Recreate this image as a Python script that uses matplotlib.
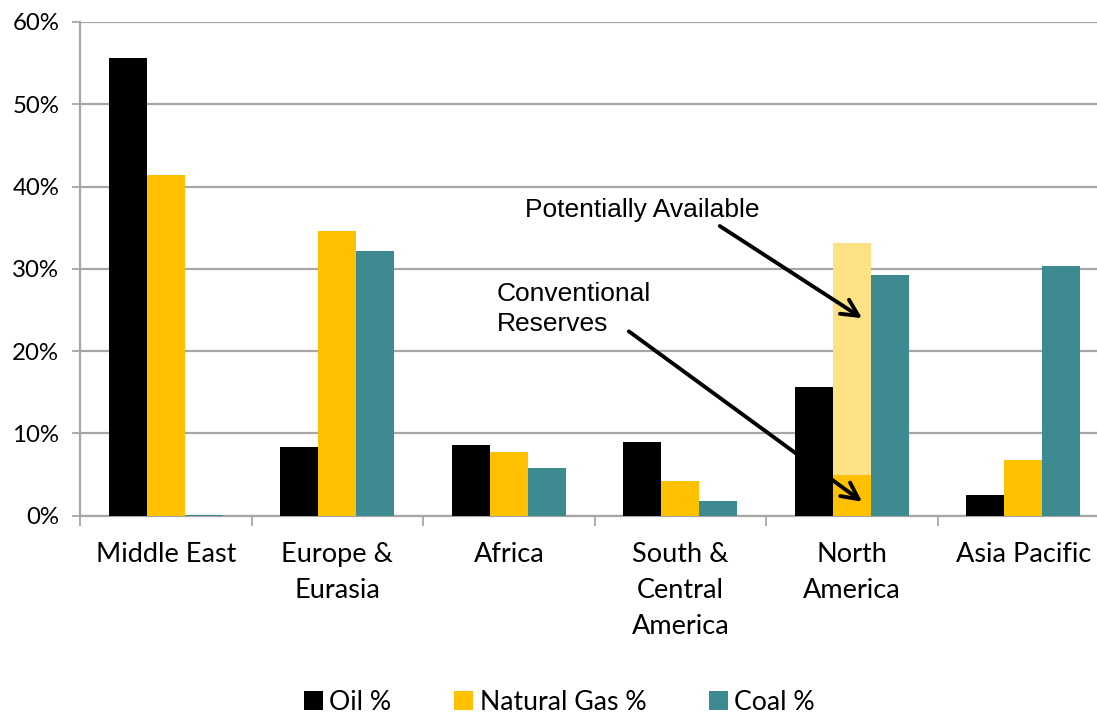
import numpy as np
import matplotlib
matplotlib.use("Agg")
import matplotlib.pyplot as plt
from matplotlib.ticker import PercentFormatter

regions = ["Middle East", "Europe &\nEurasia", "Africa", "South &\nCentral\nAmerica",
           "North\nAmerica", "Asia Pacific"]
oil = [55.6, 8.3, 8.6, 9.0, 15.6, 2.5]
gas = [41.4, 34.6, 7.8, 4.2, 4.9, 6.8]
coal = [0.1, 32.2, 5.8, 1.8, 29.2, 30.4]
gas_potential = [0, 0, 0, 0, 33.1, 0]   # North America unconventional gas

c_oil = "#000000"
c_gas = "#FFC000"
c_gas_light = "#FDE185"
c_coal = "#3E8A91"
grid_c = "#A6A6A6"

plt.rcParams["font.family"] = ["Lato", "DejaVu Sans"]

fig = plt.figure(figsize=(10.97, 7.23), dpi=100)
# axes runs slightly past the right edge of the figure, as in the original
ax = fig.add_axes([0.073, 0.2867, 0.938, 0.683])

x = np.arange(len(regions))
w = 0.222
ax.bar(x - w, oil, w, color=c_oil, zorder=3, label="Oil %")
ax.bar(x, gas_potential, w, color=c_gas_light, zorder=3)
ax.bar(x, gas, w, color=c_gas, zorder=3, label="Natural Gas %")
ax.bar(x + w, coal, w, color=c_coal, zorder=3, label="Coal %")

ax.set_xlim(-0.5, len(regions) - 0.5)
ax.set_ylim(0, 60)
ax.set_yticks(np.arange(0, 61, 10))
ax.yaxis.set_major_formatter(PercentFormatter(decimals=0))
ax.yaxis.grid(True, color=grid_c, linewidth=1.6, zorder=0)
ax.set_axisbelow(True)

ax.set_xticks(x)
ax.set_xticklabels(regions, fontsize=19.5, linespacing=1.55, va="top")
ax.set_xticks(np.arange(-0.5, len(regions)), minor=True)
ax.tick_params(axis="x", which="major", length=0, pad=19)
ax.tick_params(axis="x", which="minor", length=7, color=grid_c, width=1.3)
ax.tick_params(axis="y", length=6, color=grid_c, width=1.3, labelsize=17.3, pad=9)

for s in ["top", "right"]:
    ax.spines[s].set_visible(False)
for s in ["left", "bottom"]:
    ax.spines[s].set_color(grid_c)
    ax.spines[s].set_linewidth(1.6)

# annotations
ann = dict(fontsize=19, family="Liberation Sans")
arrow = dict(arrowstyle="->", color="black", lw=2.8, mutation_scale=30, shrinkA=0, shrinkB=0)
ax.text(2.78, 37.1, "Potentially Available", ha="center", va="center", **ann)
ax.annotate("", xy=(4.06, 24.0), xytext=(3.23, 35.2), arrowprops=arrow)
ax.annotate("", xy=(4.06, 1.7), xytext=(2.7, 22.4), arrowprops=arrow)
ax.text(1.93, 25.1, "Conventional\nReserves", ha="left", va="center",
        linespacing=1.3, **ann)

fig.legend(loc="lower center", bbox_to_anchor=(0.51, -0.022), ncol=3, frameon=False,
           fontsize=19.2, handlelength=0.7, handleheight=0.7, handletextpad=0.25,
           columnspacing=2.35)

fig.savefig("out.png", dpi=100)
